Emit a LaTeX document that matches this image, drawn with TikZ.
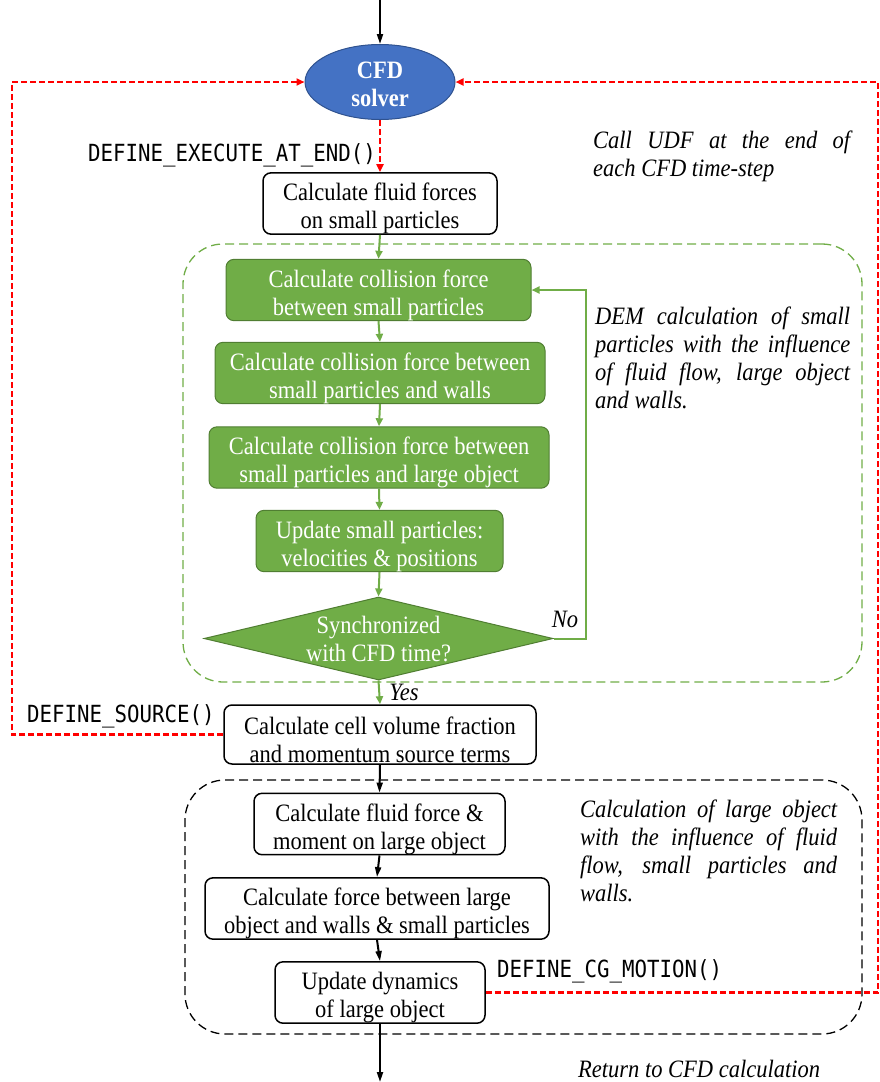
\documentclass[tikz,border=0pt]{standalone}
\usepackage{fontspec}
\setmainfont[FakeStretch=0.9]{Liberation Serif}
\setmonofont[FakeStretch=0.88]{DejaVu Sans Mono}
\usetikzlibrary{arrows.meta,shapes.geometric}
\definecolor{cfdblue}{HTML}{4472C4}
\definecolor{cfdborder}{HTML}{2F528F}
\definecolor{dgreen}{HTML}{70AD47}
\definecolor{dgreenb}{HTML}{507E32}
\newcommand\tstrut{\rule{0pt}{28pt}}
\begin{document}
\begin{tikzpicture}[x=1pt,y=-1pt,
  font=\fontsize{25}{28}\selectfont,
  wbox/.style={draw=black, line width=1.5pt, rounded corners=8pt, fill=white, align=center, inner sep=0pt},
  gbox/.style={draw=dgreenb, line width=1pt, fill=dgreen, text=white, rounded corners=8pt, align=center, inner sep=0pt},
  udf/.style={font=\ttfamily\fontsize{23.6}{26}\selectfont, inner sep=0pt},
  note/.style={font=\itshape\fontsize{25}{28}\selectfont, align=justify, inner sep=0pt, anchor=north west},
  reddash/.style={draw=red, line width=2.2pt, dash pattern=on 6pt off 3pt, -{Triangle[length=8pt,width=7pt]}},
  garrow/.style={draw=dgreen, line width=2pt, -{Triangle[length=8pt,width=7pt]}},
  barrow/.style={draw=black, line width=2pt, -{Triangle[length=10pt,width=6pt]}},
  region/.style={line width=1.3pt, dash pattern=on 9pt off 5pt, rounded corners=40pt, inner sep=0pt}
]
\useasboundingbox (0,0) rectangle (880,1082);

% regions
\node[region, draw=dgreen, minimum width=679, minimum height=438] (demreg) at (522.5,463) {};
\node[region, draw=black, minimum width=677, minimum height=254] (lorreg) at (523.5,907) {};

% top
\node[ellipse, minimum width=150, minimum height=75, fill=cfdblue, draw=cfdborder, line width=1pt, text=white, align=center, inner sep=0pt, font=\bfseries\fontsize{25}{28}\selectfont] (cfd) at (380,82) {\rule{0pt}{22pt}CFD\\solver};
\node[wbox, minimum width=234, minimum height=57] (b1) at (380,203.5) {\tstrut Calculate fluid forces\\on small particles};

% DEM loop
\node[gbox, minimum width=305, minimum height=60] (g1) at (378.5,290) {\tstrut Calculate collision force\\between small particles};
\node[gbox, minimum width=330, minimum height=60] (g2) at (380,373) {\tstrut Calculate collision force between\\small particles and walls};
\node[gbox, minimum width=340, minimum height=61] (g3) at (379,457.5) {\tstrut Calculate collision force between\\small particles and large object};
\node[gbox, minimum width=247, minimum height=58] (g4) at (379.5,541) {\tstrut Update small particles:\\velocities \& positions};
\node[diamond, aspect=4.2, minimum width=349, minimum height=83, inner sep=0pt, fill=dgreen, draw=dgreenb, line width=1pt] (dia) at (378.5,638.5) {};
\node[text=white, align=center, inner sep=0pt] (diatext) at (dia.center) {Synchronized\\with CFD time?};

% after
\node[wbox, minimum width=312, minimum height=59] (cv) at (380,734.5) {\tstrut Calculate cell volume fraction\\and momentum source terms};
\node[wbox, minimum width=251, minimum height=58] (f1) at (379.5,824) {\tstrut Calculate fluid force \&\\moment on large object};
\node[wbox, minimum width=344, minimum height=61] (f2) at (377,908.5) {\tstrut Calculate force between large\\object and walls \& small particles};
\node[wbox, minimum width=210, minimum height=59] (f3) at (380,992.5) {\tstrut Update dynamics\\of large object};

% coordinates
\coordinate (top) at (380,0);
\coordinate (bot) at (380,1082);
\coordinate (lcorner) at (12,82);
\coordinate (rcorner) at (878,82);

% connectors
\draw[barrow] (top) -- (cfd.north);
\draw[reddash] (cfd.south) -- (b1.north);
\draw[garrow] (b1.south) -- (g1.north);
\draw[garrow] (g1.south) -- (g2.north);
\draw[garrow] (g2.south) -- (g3.north);
\draw[garrow] (g3.south) -- (g4.north);
\draw[garrow] (g4.south) -- (dia.north);
\draw[garrow] (dia.east) -- ++(32,0) |- (g1.east);
\draw[garrow] (dia.south) -- (cv.north);
\draw[barrow] (cv.south) -- (f1.north);
\draw[barrow] (f1.south) -- (f2.north);
\draw[barrow] (f2.south) -- (f3.north);
\draw[barrow] (f3.south) -- (bot);
\draw[reddash] (cv.west) -| (lcorner) -- (cfd.west);
\draw[reddash] (f3.east) -| (rcorner) -- (cfd.east);

% labels
\node[udf, anchor=east] (l1) at (376,155) {DEFINE\_EXECUTE\_AT\_END()};
\node[udf, anchor=west] (l2) at (27,716) {DEFINE\_SOURCE()};
\node[udf, anchor=west] (l3) at (497,971) {DEFINE\_CG\_MOTION()};
\node[font=\itshape\fontsize{25}{28}\selectfont, inner sep=0pt] (no) at (565,619) {No};
\node[font=\itshape\fontsize{25}{28}\selectfont, inner sep=0pt] (yes) at (404,692) {Yes};

\node[note, text width=257] (n1) at (593,131) {Call UDF at the end of\linebreak each CFD time-step};
\node[note, text width=255] (n2) at (595,307) {DEM calculation of small particles with the influence of fluid flow, large object and walls.};
\node[note, text width=257] (n3) at (580,800) {Calculation of large object with the influence of fluid flow, small particles and walls.};
\node[font=\itshape\fontsize{25}{28}\selectfont, inner sep=0pt, anchor=west] (n4) at (578,1069) {Return to CFD calculation};
\end{tikzpicture}
\end{document}
